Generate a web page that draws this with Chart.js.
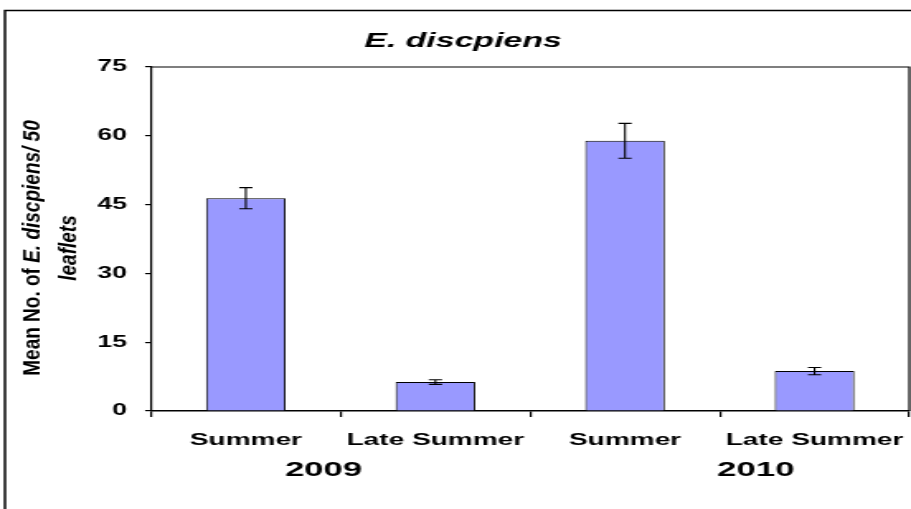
<!DOCTYPE html>
<html>
<head>
<meta charset="utf-8">
<script src="https://cdn.jsdelivr.net/npm/chart.js@4.4.0/dist/chart.umd.min.js"></script>
<style>
  html, body { margin: 0; padding: 0; background: #fff; overflow: hidden; }
  #wrap { width: 911px; height: 509px; position: relative; }
  /* the reference is stretched sideways, so the chart is drawn narrow and widened */
  #chart { position: absolute; left: 0; top: 0; transform-origin: 0 0; }
</style>
</head>
<body>
<div id="wrap"><canvas id="chart" width="552" height="509"></canvas></div>
<script>
// Данные с картинки
const categories = ['Summer', 'Late Summer', 'Summer', 'Late Summer'];
const means = [46.4, 6.3, 58.9, 8.7];
const errors = [2.3, 0.5, 3.8, 0.8];
const years = ['2009', '2010'];
const yearAt = [0.41, 2.69]; // где стоят подписи лет, в индексах категорий
const yTicks = [0, 15, 30, 45, 60, 75];

const STRETCH = 911 / 552;
const FONT = '"Liberation Sans", Arial, sans-serif';

const canvas = document.getElementById('chart');
canvas.style.transform = 'scaleX(' + STRETCH + ')';

// рамка, заголовок, подпись оси Y, годы, усы ошибок
const extras = {
    id: 'extras',
    afterDraw(chart) {
        const ctx = chart.ctx;
        const area = chart.chartArea;
        const x = chart.scales.x, y = chart.scales.y;

        ctx.save();
        ctx.strokeStyle = '#000';
        ctx.lineWidth = 1.5;
        ctx.strokeRect(3, 10.5, 1000, 1000);

        // верх и правая сторона области графика
        ctx.lineWidth = 1.2;
        ctx.beginPath();
        ctx.moveTo(area.left, area.top);
        ctx.lineTo(area.right, area.top);
        ctx.lineTo(area.right, area.bottom);
        ctx.stroke();

        // error bars
        ctx.lineWidth = 1.1;
        means.forEach((m, i) => {
            const cx = x.getPixelForValue(i);
            const top = y.getPixelForValue(m + errors[i]);
            const bot = y.getPixelForValue(m - errors[i]);
            ctx.beginPath();
            ctx.moveTo(cx, top); ctx.lineTo(cx, bot);
            ctx.moveTo(cx - 4, top); ctx.lineTo(cx + 4, top);
            ctx.moveTo(cx - 4, bot); ctx.lineTo(cx + 4, bot);
            ctx.stroke();
        });

        ctx.fillStyle = '#000';
        ctx.textAlign = 'center';
        ctx.textBaseline = 'middle';

        // заголовок в Excel стоит левее центра области
        ctx.font = 'italic bold 20.5px ' + FONT;
        ctx.fillText('E. discpiens', 280.6, 41);

        ctx.font = 'bold 21px ' + FONT;
        years.forEach((t, i) => ctx.fillText(t, x.getPixelForValue(yearAt[i]), 470));

        // подпись оси Y, две строки, смешанный стиль
        const cy = 248;
        const line1 = [['Mean No. of ', 'bold'], ['E. discpiens/ 50', 'italic bold']];
        drawRotated(ctx, line1, 20, cy);
        drawRotated(ctx, [['leaflets', 'italic bold']], 42.4, cy);
        ctx.restore();
    }
};

function drawRotated(ctx, parts, cx, cy) {
    const size = 19;
    let total = 0;
    parts.forEach(p => { ctx.font = p[1] + ' ' + size + 'px ' + FONT; total += ctx.measureText(p[0]).width; });
    ctx.save();
    ctx.translate(cx, cy);
    ctx.rotate(-Math.PI / 2);
    ctx.scale(1, 0.74);
    ctx.textAlign = 'left';
    let pos = -total / 2;
    parts.forEach(p => {
        ctx.font = p[1] + ' ' + size + 'px ' + FONT;
        ctx.fillText(p[0], pos, 0);
        pos += ctx.measureText(p[0]).width;
    });
    ctx.restore();
}

new Chart(canvas, {
    type: 'bar',
    data: {
        labels: categories,
        datasets: [{
            data: means,
            backgroundColor: '#9999FF',
            borderColor: '#000',
            borderWidth: 1,
            categoryPercentage: 1,
            barPercentage: 0.42
        }]
    },
    options: {
        responsive: false,
        animation: false,
        devicePixelRatio: 1,
        layout: { padding: { top: 67, right: 1, left: 0, bottom: 0 } },
        plugins: { legend: { display: false }, title: { display: false }, tooltip: { enabled: false } },
        scales: {
            x: {
                afterFit: s => { s.height = 98; s.paddingLeft = 0; s.paddingRight = 0; },
                grid: { drawOnChartArea: false, color: '#000', lineWidth: 1.2, tickLength: 6 },
                border: { display: true, color: '#000', width: 1.5 },
                ticks: { color: '#000', font: { family: FONT, weight: 'bold', size: 17 }, padding: 13, maxRotation: 0, autoSkip: false }
            },
            y: {
                min: 0, max: 75,
                afterFit: s => { s.width = 91.5; s.paddingTop = 0; s.paddingBottom = 0; },
                afterBuildTicks: s => { s.ticks = yTicks.map(v => ({ value: v })); },
                grid: { drawOnChartArea: false, color: '#000', lineWidth: 1.2, tickLength: 3.6 },
                border: { display: true, color: '#000', width: 1.2 },
                ticks: { color: '#000', font: { family: FONT, weight: 'bold', size: 16 }, padding: 11 }
            }
        }
    },
    plugins: [extras]
});
</script>
</body>
</html>
